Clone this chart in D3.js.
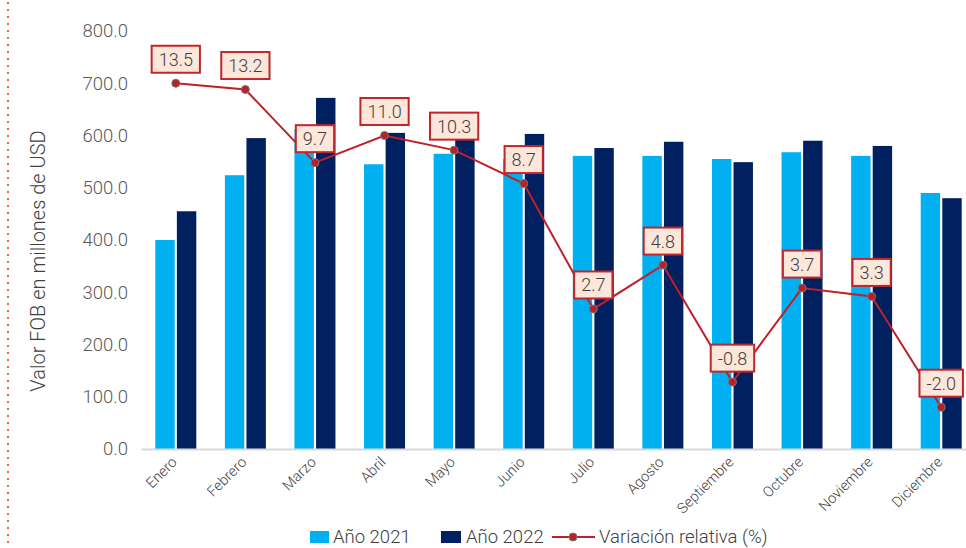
<html>
<head>
<meta charset="utf-8">
<style>
  body { margin: 0; padding: 0; background: #fff; }
  svg { display: block; font-family: Roboto, "Open Sans", sans-serif; font-weight: 300; }
</style>
</head>
<body>
<svg id="chart" width="966" height="548"></svg>
<script src="https://d3js.org/d3.v7.min.js"></script>
<script>
// datos
var meses = ["Enero", "Febrero", "Marzo", "Abril", "Mayo", "Junio", "Julio", "Agosto",
             "Septiembre", "Octubre", "Noviembre", "Diciembre"];
var valores2021 = [400, 524, 612, 545, 565, 555, 561, 561, 555, 568, 561, 490];
var valores2022 = [455, 595, 672, 605, 598, 603, 576, 588, 549, 590, 580, 480];
var variacion = [13.5, 13.2, 9.7, 11.0, 10.3, 8.7, 2.7, 4.8, -0.8, 3.7, 3.3, -2.0];
var ticksY = [0, 100, 200, 300, 400, 500, 600, 700, 800];

var colores = { a2021: "#00B0F0", a2022: "#002060", linea: "#C0202A" };

var svg = d3.select("#chart");
var W = 966, H = 548;

// linea punteada naranja a la izquierda
svg.append("line")
  .attr("x1", 8).attr("x2", 8).attr("y1", 2).attr("y2", H)
  .attr("stroke", "#F26522").attr("stroke-width", 2)
  .attr("stroke-dasharray", "2,5");

var x = d3.scaleBand().domain(meses).range([141, 976]);
var xSub = d3.scaleBand().domain(["a2021", "a2022"]).range([0, 41]).paddingInner(0.1);
var y = d3.scaleLinear().domain([0, 800]).range([449, 31]);
var y2 = d3.scaleLinear().domain([-4, 16]).range([449, 31]);

// eje y
var ejeY = svg.append("g").attr("transform", "translate(128,0)")
  .call(d3.axisLeft(y).tickValues(ticksY).tickSize(0).tickPadding(0)
    .tickFormat(function(d) { return d.toFixed(1); }));
ejeY.select(".domain").remove();
ejeY.selectAll("text")
  .attr("font-size", 18.5).attr("fill", "#595959")
  .attr("font-family", "Roboto").attr("font-weight", 300);

svg.append("text")
  .attr("transform", "translate(45,261) rotate(-90)")
  .attr("text-anchor", "middle")
  .attr("font-size", 20).attr("fill", "#404040")
  .text("Valor FOB en millones de USD");

// barras
var grupos = svg.selectAll(".mes")
  .data(meses)
  .enter().append("g")
  .attr("class", "mes")
  .attr("transform", function(d) { return "translate(" + (x(d) + x.bandwidth() / 2 - 20.5) + ",0)"; });

grupos.append("rect")
  .attr("x", xSub("a2021"))
  .attr("width", xSub.bandwidth())
  .attr("y", function(d, i) { return y(valores2021[i]); })
  .attr("height", function(d, i) { return y(0) - y(valores2021[i]); })
  .attr("fill", colores.a2021);

grupos.append("rect")
  .attr("x", xSub("a2022"))
  .attr("width", xSub.bandwidth())
  .attr("y", function(d, i) { return y(valores2022[i]); })
  .attr("height", function(d, i) { return y(0) - y(valores2022[i]); })
  .attr("fill", colores.a2022);

// eje x
var ejeX = svg.append("g").attr("transform", "translate(0,449)")
  .call(d3.axisBottom(x).tickSize(0).tickPadding(0));
ejeX.select(".domain").attr("stroke", "#D9D9D9").attr("stroke-width", 2);
ejeX.selectAll("text")
  .attr("font-size", 14.5).attr("fill", "#404040")
  .attr("font-family", "Roboto").attr("font-weight", 300)
  .attr("text-anchor", "end")
  .attr("dy", null)
  .attr("transform", "translate(2,14) rotate(-45)");

// linea de variacion
var centro = function(d, i) { return x(meses[i]) + x.bandwidth() / 2; };
var linea = d3.line()
  .x(function(d, i) { return centro(d, i); })
  .y(function(d) { return y2(d); });

svg.append("path")
  .datum(variacion)
  .attr("d", linea)
  .attr("fill", "none")
  .attr("stroke", colores.linea)
  .attr("stroke-width", 2);

svg.selectAll(".punto")
  .data(variacion)
  .enter().append("circle")
  .attr("class", "punto")
  .attr("cx", centro)
  .attr("cy", function(d) { return y2(d); })
  .attr("r", 4)
  .attr("fill", "#B8202A")
  .attr("stroke", "#777")
  .attr("stroke-width", 1);

// etiquetas
var etiquetas = svg.selectAll(".etiqueta")
  .data(variacion)
  .enter().append("g")
  .attr("class", "etiqueta")
  .attr("transform", function(d, i) { return "translate(" + centro(d, i) + "," + (y2(d) - 24) + ")"; });

etiquetas.each(function(d) {
  var g = d3.select(this);
  var rect = g.append("rect");
  var t = g.append("text")
    .attr("text-anchor", "middle")
    .attr("dy", "0.36em")
    .attr("font-size", 18)
    .attr("fill", "#404040")
    .text(d.toFixed(1));
  var w = t.node().getComputedTextLength() + 14;
  rect.attr("x", -w / 2).attr("y", -13.5).attr("width", w).attr("height", 27)
    .attr("fill", "#FDE6DA").attr("stroke", "#C0272D").attr("stroke-width", 2);
});

// leyenda
var ley = svg.append("g").attr("transform", "translate(0,537)");
ley.append("rect").attr("x", 310).attr("y", -6).attr("width", 19).attr("height", 12).attr("fill", colores.a2021);
ley.append("text").attr("x", 333).attr("dy", "0.34em").attr("font-size", 18.5).attr("fill", "#404040").text("Año 2021");
ley.append("rect").attr("x", 441).attr("y", -6).attr("width", 20).attr("height", 12).attr("fill", colores.a2022);
ley.append("text").attr("x", 466).attr("dy", "0.34em").attr("font-size", 18.5).attr("fill", "#404040").text("Año 2022");
ley.append("line").attr("x1", 552).attr("x2", 595).attr("stroke", colores.linea).attr("stroke-width", 2);
ley.append("circle").attr("cx", 573).attr("r", 4).attr("fill", "#B8202A").attr("stroke", "#777");
ley.append("text").attr("x", 599).attr("dy", "0.34em").attr("font-size", 18.5).attr("fill", "#404040").text("Variación relativa (%)");
</script>
</body>
</html>
